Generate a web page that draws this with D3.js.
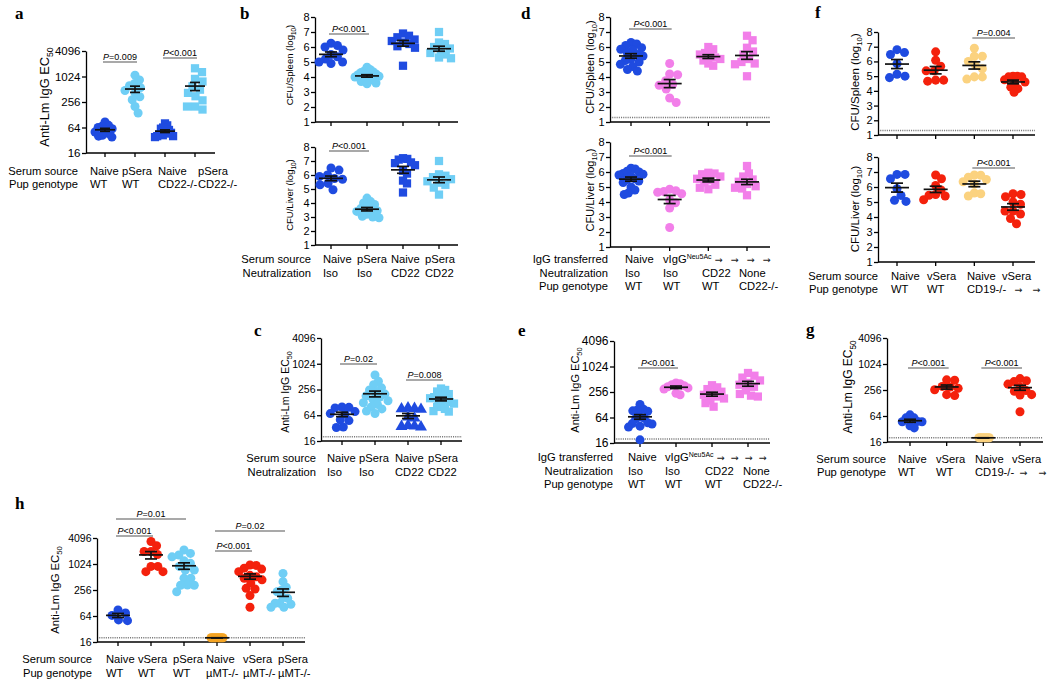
<!DOCTYPE html>
<html><head><meta charset="utf-8">
<script src="https://cdn.jsdelivr.net/npm/d3@7"></script>
<style>
html,body{margin:0;padding:0;background:#fff;}
svg{display:block;}
</style></head><body>
<svg id="chart" width="1050" height="685"></svg>
<script>
// ---------------- colours ----------------
const BLUE = "#1f4be0", LBLUE = "#6fcef5", PINK = "#f27fe9", RED = "#f4210c", YELLOW = "#fbd27f", ORANGE = "#f4a423";
const FONT = "'Liberation Sans', Arial, Helvetica, sans-serif";

// ---------------- data: panel a (anti-Lm IgG EC50) ----------------
const aRow1 = ["Naive", "pSera", "Naive", "pSera"];
const aRow2 = ["WT", "WT", "CD22-/-", "CD22-/-"];
const aNaiveWT = [86, 72, 68, 64, 60, 56, 50, 46, 42, 40, 38];
const aPSeraWT = [1100, 850, 700, 620, 560, 480, 420, 340, 290, 200, 141];
const aNaiveCD22 = [80, 72, 64, 60, 56, 52, 48, 46, 44, 42, 40, 40, 38];
const aPSeraCD22 = [1600, 1300, 900, 780, 600, 500, 420, 350, 280, 200, 170, 200];

// ---------------- panel b (CFU log10) ----------------
const bRow1 = ["Naive", "pSera", "Naive", "pSera"];
const bRow2 = ["Iso", "Iso", "CD22", "CD22"];
const bSpleenNaiveIso = [6.25, 6.1, 6.0, 5.8, 5.5, 5.35, 5.2, 5.0, 5.0, 4.9];
const bSpleenPSeraIso = [4.65, 4.5, 4.4, 4.35, 4.3, 4.2, 4.15, 4.1, 4.05, 4.0, 3.95, 3.85, 3.8, 3.7, 3.6, 3.55];
const bSpleenNaiveCD22 = [6.9, 6.75, 6.65, 6.5, 6.4, 6.3, 6.2, 6.05, 5.95, 4.75];
const bSpleenPSeraCD22 = [7.0, 6.3, 6.2, 6.0, 5.9, 5.8, 5.6, 5.5, 5.3, 5.25];
const bLiverNaiveIso = [6.5, 6.35, 6.0, 5.9, 5.75, 5.7, 5.4, 5.3, 4.95];
const bLiverPSeraIso = [4.35, 4.1, 4.0, 3.9, 3.75, 3.6, 3.5, 3.45, 3.4, 3.2, 3.05, 3.0, 2.95];
const bLiverNaiveCD22 = [7.2, 7.15, 7.1, 6.9, 6.85, 6.7, 6.3, 6.1, 5.6, 5.4, 4.75];
const bLiverPSeraCD22 = [7.0, 6.05, 5.95, 5.85, 5.7, 5.55, 5.45, 5.3, 5.1, 4.6];

// ---------------- panel c ----------------
const cRow1 = ["Naive", "pSera", "Naive", "pSera"];
const cRow2 = ["Iso", "Iso", "CD22", "CD22"];
const cNaiveIso = [100, 98, 95, 78, 70, 68, 50, 48, 34, 33];
const cPSeraIso = [560, 400, 330, 280, 250, 220, 200, 180, 170, 150, 140, 125, 115, 100, 90, 80, 70];
const cNaiveCD22 = [95, 92, 90, 88, 58, 55, 37, 36, 35, 34];
const cPSeraCD22 = [270, 250, 230, 200, 180, 170, 160, 150, 140, 130, 120, 110, 100, 90, 80, 78];

// ---------------- panel d ----------------
const dRow1 = ["Naive", "vIgG^Neu5Ac → → → →", "", ""];
const dRow2 = ["Iso", "Iso", "CD22", "None"];
const dRow3 = ["WT", "WT", "WT", "CD22-/-"];
const dSpleenNaive = [6.3, 6.2, 6.1, 5.95, 5.85, 5.8, 5.6, 5.5, 5.4, 5.2, 5.1, 5.0, 4.85, 4.7, 4.5, 4.4];
const dSpleenVIgG = [4.9, 4.2, 4.15, 3.75, 3.5, 3.45, 3.2, 2.6, 2.3];
const dSpleenCD22 = [6.0, 5.85, 5.6, 5.5, 5.4, 5.3, 5.2, 5.1, 4.9, 4.75];
const dSpleenNone = [6.75, 6.45, 5.95, 5.7, 5.5, 5.2, 5.0, 4.9, 4.85, 4.05];
const dLiverNaive = [6.25, 6.2, 6.05, 6.0, 5.9, 5.85, 5.8, 5.7, 5.55, 5.5, 5.4, 5.3, 5.0, 4.8, 4.6, 4.5];
const dLiverVIgG = [4.85, 4.75, 4.7, 4.65, 4.55, 4.15, 3.95, 3.6, 2.3];
const dLiverCD22 = [5.95, 5.9, 5.85, 5.7, 5.55, 5.45, 5.3, 5.15, 4.95, 4.85];
const dLiverNone = [6.4, 5.9, 5.7, 5.5, 5.35, 5.2, 5.05, 4.95, 4.9, 4.45];

// ---------------- panel e ----------------
const eRow1 = ["Naive", "vIgG^Neu5Ac → → → →", "", ""];
const eRow2 = ["Iso", "Iso", "CD22", "None"];
const eRow3 = ["WT", "WT", "WT", "CD22-/-"];
const eNaive = [130, 100, 95, 92, 90, 66, 62, 60, 48, 46, 45, 40, 38, 19];
const eVIgG = [420, 400, 380, 360, 340, 320, 300, 240, 220];
const eCD22 = [370, 330, 300, 260, 240, 220, 200, 180, 160, 140, 115];
const eNone = [720, 620, 560, 480, 420, 380, 340, 280, 230, 210, 200];

// ---------------- panel f ----------------
const fRow1 = ["Naive", "vSera", "Naive", "vSera"];
const fRow2 = ["WT", "WT", "CD19-/- → →", ""];
const fSpleenNaiveWT = [6.47, 6.8, 6.6, 5.85, 4.9, 5.13, 5.0];
const fSpleenVSeraWT = [6.65, 6.08, 5.67, 5.36, 5.36, 4.66, 4.73, 4.73];
const fSpleenNaiveCD19 = [6.9, 6.35, 6.35, 6.0, 5.75, 5.5, 4.8, 4.95, 4.95];
const fSpleenVSeraCD19 = [5.0, 4.95, 5.0, 4.95, 4.75, 4.6, 4.5, 4.25, 4.15, 3.9];
const fLiverNaiveWT = [6.84, 6.55, 6.84, 5.89, 5.04, 5.44, 5.11];
const fLiverVSeraWT = [6.8, 6.55, 6.1, 5.8, 5.15, 5.45, 5.4, 5.5];
const fLiverNaiveCD19 = [6.8, 6.65, 6.78, 6.35, 6.5, 6.2, 5.6, 5.4, 5.55];
const fLiverVSeraCD19 = [5.55, 5.5, 5.35, 5.0, 4.85, 4.4, 4.4, 4.2, 3.9, 3.55];

// ---------------- panel g ----------------
const gRow1 = ["Naive", "vSera", "Naive", "vSera"];
const gRow2 = ["WT", "WT", "CD19-/- → →", ""];
const gNaiveWT = [68, 58, 58, 48, 47, 47, 38, 34];
const gVSeraWT = [430, 440, 310, 300, 260, 280, 190, 200];
const gNaiveCD19 = [20, 20, 20, 20, 20, 20, 20, 20];
const gVSeraCD19 = [470, 420, 400, 350, 300, 250, 240, 200, 195, 80];

// ---------------- panel h ----------------
const hRow1 = ["Naive", "vSera", "pSera", "Naive", "vSera", "pSera"];
const hRow2 = ["WT", "WT", "WT", "µMT-/-", "µMT-/-", "µMT-/-"];
const hNaiveWT = [88, 75, 66, 52, 50];
const hVSeraWT = [3400, 2700, 2000, 2000, 1700, 900, 900, 680, 680];
const hPSeraWT = [2160, 1800, 1650, 1500, 1220, 1060, 900, 745, 745, 480, 480, 335, 330, 330, 234];
const hNaiveMMT = [20, 20, 20, 20, 20, 20, 20, 20, 20];
const hVSeraMMT = [970, 950, 820, 780, 680, 560, 520, 480, 440, 370, 280, 270, 190, 102];
const hPSeraMMT = [620, 400, 296, 256, 234, 170, 165, 126, 120, 126, 102, 102];

const LOG_TICKS = [16, 64, 256, 1024, 4096];
const CFU_TICKS = [1, 2, 3, 4, 5, 6, 7, 8];

// ---------------- drawing helpers ----------------
const svg = d3.select("#chart").attr("font-family", FONT);
const LABEL_FONT = 11.2;

function swarm(ys, minDist, maxHalf) {
  const n = ys.length, xs = new Array(n).fill(0);
  const order = d3.range(n).sort((a, b) => ys[a] - ys[b]);
  const placed = [];
  for (const i of order) {
    let off = 0;
    for (let k = 0; k < 400; k++) {
      const c = Math.ceil(k / 2) * 0.5 * (k % 2 ? 1 : -1);
      let ok = true;
      for (const j of placed) {
        const dx = xs[j] - c, dy = ys[j] - ys[i];
        if (dx * dx + dy * dy < minDist * minDist) { ok = false; break; }
      }
      if (ok) { off = c; break; }
    }
    xs[i] = off; placed.push(i);
  }
  const mx = d3.max(xs, v => Math.abs(v));
  if (mx > maxHalf) for (let i = 0; i < n; i++) xs[i] *= maxHalf / mx;
  return xs;
}

const SHAPES = { circle: d3.symbolCircle, square: d3.symbolSquare, triangle: d3.symbolTriangle };
const SIZES = { circle: 64, square: 68, triangle: 62 };

function drawPlot(p) {
  const g = svg.append("g");
  const x = d3.scalePoint().domain(d3.range(p.groups.length)).range([p.xFirst, p.xLast]);
  const y = p.log
    ? d3.scaleLog().base(2).domain([16, 4096]).range([p.yBot, p.yTop])
    : d3.scaleLinear().domain([1, 8]).range([p.yBot, p.yTop]);

  if (p.lod != null) {
    g.append("line").attr("x1", p.axisX).attr("x2", p.xEnd)
      .attr("y1", y(p.lod)).attr("y2", y(p.lod))
      .attr("stroke", "#7a7a7a").attr("stroke-width", 1.5).attr("stroke-dasharray", "1.1,1.1");
  }

  const ax = g.append("g").attr("transform", `translate(${p.axisX},0)`)
    .call(d3.axisLeft(y).tickValues(p.log ? LOG_TICKS : CFU_TICKS).tickFormat(d3.format("d"))
      .tickSize(4).tickSizeOuter(0).tickPadding(1.5));
  ax.attr("font-family", FONT).attr("font-size", p.tickFont).attr("color", "#000");
  ax.select(".domain").attr("stroke-width", 1.3);
  ax.selectAll(".tick line").attr("stroke-width", 1.3);

  g.append("line").attr("x1", p.axisX).attr("x2", p.xEnd).attr("y1", p.yBot).attr("y2", p.yBot)
    .attr("stroke", "#000").attr("stroke-width", 1.3);
  g.selectAll(null).data(p.groups).join("line")
    .attr("x1", (d, i) => x(i)).attr("x2", (d, i) => x(i))
    .attr("y1", p.yBot).attr("y2", p.yBot + 4).attr("stroke", "#000").attr("stroke-width", 1.3);

  p.groups.forEach((gr, gi) => {
    const ys = gr.values.map(v => y(v));
    const offs = swarm(ys, 7.8, gr.half != null ? gr.half : p.maxHalf);
    const sym = d3.symbol().type(SHAPES[gr.shape]).size(SIZES[gr.shape]);
    g.selectAll(null).data(gr.values).join("path")
      .attr("d", sym)
      .attr("transform", (d, k) => `translate(${x(gi) + offs[k]},${ys[k]})`)
      .attr("fill", gr.color);

    const n = gr.values.length;
    const m = d3.mean(gr.values);
    const sem = n > 1 ? d3.deviation(gr.values) / Math.sqrt(n) : 0;
    const cx = x(gi);
    const lines = [
      [cx - p.meanHalf, cx + p.meanHalf, y(m), y(m)],
      [cx, cx, y(m - sem), y(m + sem)],
      [cx - p.capHalf, cx + p.capHalf, y(m - sem), y(m - sem)],
      [cx - p.capHalf, cx + p.capHalf, y(m + sem), y(m + sem)]
    ];
    g.selectAll(null).data(lines).join("line")
      .attr("x1", d => d[0]).attr("x2", d => d[1]).attr("y1", d => d[2]).attr("y2", d => d[3])
      .attr("stroke", "#111").attr("stroke-width", 1.7);
  });

  (p.brackets || []).forEach(b => {
    const x1 = x(b.i) - 2, x2 = x(b.j) + 2;
    g.append("line").attr("x1", x1).attr("x2", x2).attr("y1", b.y).attr("y2", b.y)
      .attr("stroke", "#555").attr("stroke-width", 1.2);
    const t = g.append("text").attr("x", (x1 + x2) / 2).attr("y", b.y - 2.5)
      .attr("text-anchor", "middle").attr("font-size", 9).attr("fill", "#000");
    t.append("tspan").attr("font-style", "italic").text("P");
    t.append("tspan").text(b.text);
  });
}

function drawLabels(p) {
  p.rowNames.forEach((nm, r) => {
    svg.append("text").attr("x", p.nameRight).attr("y", p.baselines[r])
      .attr("text-anchor", "end").attr("font-size", LABEL_FONT).text(nm);
    p.rows[r].forEach((lab, c) => {
      if (!lab) return;
      const ai = lab.indexOf("→");
      const main = (ai >= 0 ? lab.slice(0, ai) : lab).trim();
      const arrows = ai >= 0 ? lab.slice(ai).trim() : "";
      const parts = main.split("^");
      const t = svg.append("text").attr("x", p.lefts[c]).attr("y", p.baselines[r]).attr("font-size", LABEL_FONT);
      t.append("tspan").text(parts[0]);
      if (parts[1]) t.append("tspan").attr("font-size", 7).attr("dy", -4.5).text(parts[1]);
      if (arrows) {
        const w = t.node().getComputedTextLength();
        svg.append("text").attr("x", p.lefts[c] + w + p.arrowGap).attr("y", p.baselines[r] - 0.5)
          .attr("font-family", "'DejaVu Sans', sans-serif").attr("font-size", 9.5).attr("fill", "#222")
          .attr("textLength", p.arrowLen).attr("lengthAdjust", "spacing").text(arrows);
      }
    });
  });
}

function yTitle(cx, cy, size, main, sub, after) {
  const t = svg.append("text").attr("transform", `translate(${cx + size * 0.35},${cy}) rotate(-90)`)
    .attr("text-anchor", "middle").attr("font-size", size);
  t.append("tspan").text(main);
  t.append("tspan").attr("font-size", size * 0.68).attr("dy", size * 0.3).text(sub);
  if (after) t.append("tspan").attr("font-size", size).attr("dy", -size * 0.3).text(after);
}

function letter(x, y, s) {
  svg.append("text").attr("x", x).attr("y", y).attr("font-family", "'Liberation Serif', 'Times New Roman', serif")
    .attr("font-weight", "bold").attr("font-size", 17).text(s);
}

// ---------------- panel a ----------------
letter(15, 19, "a");
drawPlot({ axisX: 86, xEnd: 215, xFirst: 105, xLast: 195, yTop: 51, yBot: 153, log: true, lod: null,
  tickFont: 11.5, meanHalf: 10, capHalf: 5, maxHalf: 10,
  groups: [{ values: aNaiveWT, color: BLUE, shape: "circle" }, { values: aPSeraWT, color: LBLUE, shape: "circle" },
           { values: aNaiveCD22, color: BLUE, shape: "square" }, { values: aPSeraCD22, color: LBLUE, shape: "square" }],
  brackets: [{ i: 0, j: 1, text: "=0.009", y: 62 }, { i: 2, j: 3, text: "<0.001", y: 58 }] });
yTitle(45, 97, 12.8, "Anti-Lm IgG EC", "50");
drawLabels({ rowNames: ["Serum source", "Pup genotype"], rows: [aRow1, aRow2], baselines: [175, 188],
  nameRight: 78, lefts: [90, 122, 158, 198] });

// ---------------- panel b ----------------
letter(240, 19, "b");
drawPlot({ axisX: 315, xEnd: 458, xFirst: 331, xLast: 439, yTop: 17, yBot: 122, log: false, lod: null,
  tickFont: 11, meanHalf: 12, capHalf: 6, maxHalf: 12,
  groups: [{ values: bSpleenNaiveIso, color: BLUE, shape: "circle" }, { values: bSpleenPSeraIso, color: LBLUE, shape: "circle" },
           { values: bSpleenNaiveCD22, color: BLUE, shape: "square" }, { values: bSpleenPSeraCD22, color: LBLUE, shape: "square" }],
  brackets: [{ i: 0, j: 1, text: "<0.001", y: 34 }] });
drawPlot({ axisX: 315, xEnd: 458, xFirst: 331, xLast: 439, yTop: 147, yBot: 245, log: false, lod: null,
  tickFont: 11, meanHalf: 12, capHalf: 6, maxHalf: 12,
  groups: [{ values: bLiverNaiveIso, color: BLUE, shape: "circle" }, { values: bLiverPSeraIso, color: LBLUE, shape: "circle" },
           { values: bLiverNaiveCD22, color: BLUE, shape: "square" }, { values: bLiverPSeraCD22, color: LBLUE, shape: "square" }],
  brackets: [{ i: 0, j: 1, text: "<0.001", y: 151 }] });
yTitle(290, 65, 9.5, "CFU/Spleen (log", "10", ")");
yTitle(290, 195, 9.5, "CFU/Liver (log", "10", ")");
drawLabels({ rowNames: ["Serum source", "Neutralization"], rows: [bRow1, bRow2], baselines: [263, 277],
  nameRight: 311, lefts: [323, 357, 391, 425] });

// ---------------- panel c ----------------
letter(254, 336, "c");
drawPlot({ axisX: 321, xEnd: 462, xFirst: 342, xLast: 441, yTop: 338, yBot: 441, log: true, lod: 20,
  tickFont: 10.5, meanHalf: 12, capHalf: 6, maxHalf: 13,
  groups: [{ values: cNaiveIso, color: BLUE, shape: "circle" }, { values: cPSeraIso, color: LBLUE, shape: "circle" },
           { values: cNaiveCD22, color: BLUE, shape: "triangle" }, { values: cPSeraCD22, color: LBLUE, shape: "square" }],
  brackets: [{ i: 0, j: 1, text: "=0.02", y: 364 }, { i: 2, j: 3, text: "=0.008", y: 380 }] });
yTitle(285, 392, 10.5, "Anti-Lm IgG EC", "50");
drawLabels({ rowNames: ["Serum source", "Neutralization"], rows: [cRow1, cRow2], baselines: [462, 476],
  nameRight: 316, lefts: [327, 359, 395, 428] });

// ---------------- panel d ----------------
letter(521, 19, "d");
drawPlot({ axisX: 610, xEnd: 770, xFirst: 631, xLast: 747, yTop: 17, yBot: 122, log: false, lod: 1.3,
  tickFont: 11, meanHalf: 12, capHalf: 6, maxHalf: 12,
  groups: [{ values: dSpleenNaive, color: BLUE, shape: "circle" }, { values: dSpleenVIgG, color: PINK, shape: "circle" },
           { values: dSpleenCD22, color: PINK, shape: "square" }, { values: dSpleenNone, color: PINK, shape: "square" }],
  brackets: [{ i: 0, j: 1, text: "<0.001", y: 29 }] });
drawPlot({ axisX: 610, xEnd: 770, xFirst: 631, xLast: 747, yTop: 142, yBot: 247, log: false, lod: null,
  tickFont: 11, meanHalf: 12, capHalf: 6, maxHalf: 12,
  groups: [{ values: dLiverNaive, color: BLUE, shape: "circle" }, { values: dLiverVIgG, color: PINK, shape: "circle" },
           { values: dLiverCD22, color: PINK, shape: "square" }, { values: dLiverNone, color: PINK, shape: "square" }],
  brackets: [{ i: 0, j: 1, text: "<0.001", y: 156 }] });
yTitle(590, 67, 11, "CFU/Spleen (log", "10", ")");
yTitle(590, 190, 11, "CFU/Liver (log", "10", ")");
drawLabels({ rowNames: ["IgG transferred", "Neutralization", "Pup genotype"], rows: [dRow1, dRow2, dRow3],
  baselines: [263, 277, 290], nameRight: 608, lefts: [625, 663, 702, 739], arrowGap: 3, arrowLen: 56 });

// ---------------- panel e ----------------
letter(518, 336, "e");
drawPlot({ axisX: 614, xEnd: 770, xFirst: 640, xLast: 748, yTop: 341, yBot: 443, log: true, lod: 20,
  tickFont: 12, meanHalf: 12, capHalf: 6, maxHalf: 12,
  groups: [{ values: eNaive, color: BLUE, shape: "circle" }, { values: eVIgG, color: PINK, shape: "circle" },
           { values: eCD22, color: PINK, shape: "square" }, { values: eNone, color: PINK, shape: "square" }],
  brackets: [{ i: 0, j: 1, text: "<0.001", y: 368 }] });
yTitle(575, 390, 11, "Anti-Lm IgG EC", "50");
drawLabels({ rowNames: ["IgG transferred", "Neutralization", "Pup genotype"], rows: [eRow1, eRow2, eRow3],
  baselines: [461, 475, 488], nameRight: 613, lefts: [628, 665, 705, 743], arrowGap: 3, arrowLen: 50 });

// ---------------- panel f ----------------
letter(815, 18, "f");
drawPlot({ axisX: 878, xEnd: 1035, xFirst: 897, xLast: 1013, yTop: 32, yBot: 135, log: false, lod: 1.3,
  tickFont: 11, meanHalf: 12, capHalf: 6, maxHalf: 12,
  groups: [{ values: fSpleenNaiveWT, color: BLUE, shape: "circle" }, { values: fSpleenVSeraWT, color: RED, shape: "circle" },
           { values: fSpleenNaiveCD19, color: YELLOW, shape: "circle" }, { values: fSpleenVSeraCD19, color: RED, shape: "circle" }],
  brackets: [{ i: 2, j: 3, text: "=0.004", y: 38 }] });
drawPlot({ axisX: 878, xEnd: 1035, xFirst: 897, xLast: 1013, yTop: 157, yBot: 262, log: false, lod: null,
  tickFont: 11, meanHalf: 12, capHalf: 6, maxHalf: 12,
  groups: [{ values: fLiverNaiveWT, color: BLUE, shape: "circle" }, { values: fLiverVSeraWT, color: RED, shape: "circle" },
           { values: fLiverNaiveCD19, color: YELLOW, shape: "circle" }, { values: fLiverVSeraCD19, color: RED, shape: "circle" }],
  brackets: [{ i: 2, j: 3, text: "<0.001", y: 168 }] });
yTitle(855, 82, 11.5, "CFU/Spleen (log", "10", ")");
yTitle(855, 209, 11.5, "CFU/Liver (log", "10", ")");
drawLabels({ rowNames: ["Serum source", "Pup genotype"], rows: [fRow1, fRow2], baselines: [280, 293],
  nameRight: 878, lefts: [891, 927, 967, 1002], arrowGap: 8, arrowLen: 26 });

// ---------------- panel g ----------------
letter(806, 335, "g");
drawPlot({ axisX: 887, xEnd: 1043, xFirst: 910, xLast: 1020, yTop: 338, yBot: 442, log: true, lod: 20,
  tickFont: 10.5, meanHalf: 12, capHalf: 6, maxHalf: 12,
  groups: [{ values: gNaiveWT, color: BLUE, shape: "circle" }, { values: gVSeraWT, color: RED, shape: "circle" },
           { values: gNaiveCD19, color: YELLOW, shape: "circle", half: 6 }, { values: gVSeraCD19, color: RED, shape: "circle" }],
  brackets: [{ i: 0, j: 1, text: "<0.001", y: 368 }, { i: 2, j: 3, text: "<0.001", y: 368 }] });
yTitle(848, 387, 12, "Anti-Lm IgG EC", "50");
drawLabels({ rowNames: ["Serum source", "Pup genotype"], rows: [gRow1, gRow2], baselines: [463, 476],
  nameRight: 886, lefts: [898, 936, 975, 1012], arrowGap: 5, arrowLen: 27 });

// ---------------- panel h ----------------
letter(15, 509, "h");
drawPlot({ axisX: 97, xEnd: 305, xFirst: 118, xLast: 283, yTop: 538, yBot: 642, log: true, lod: 20,
  tickFont: 10.5, meanHalf: 12, capHalf: 6, maxHalf: 12,
  groups: [{ values: hNaiveWT, color: BLUE, shape: "circle" }, { values: hVSeraWT, color: RED, shape: "circle" },
           { values: hPSeraWT, color: LBLUE, shape: "circle" }, { values: hNaiveMMT, color: ORANGE, shape: "circle", half: 6 },
           { values: hVSeraMMT, color: RED, shape: "circle" }, { values: hPSeraMMT, color: LBLUE, shape: "circle" }],
  brackets: [{ i: 0, j: 2, text: "=0.01", y: 519 }, { i: 0, j: 1, text: "<0.001", y: 536 },
             { i: 3, j: 5, text: "=0.02", y: 531 }, { i: 3, j: 4, text: "<0.001", y: 551 }] });
yTitle(55, 590, 11.3, "Anti-Lm IgG EC", "50");
drawLabels({ rowNames: ["Serum source", "Pup genotype"], rows: [hRow1, hRow2], baselines: [663, 677],
  nameRight: 92, lefts: [106, 138, 173, 206, 243, 278] });
</script>
</body></html>
